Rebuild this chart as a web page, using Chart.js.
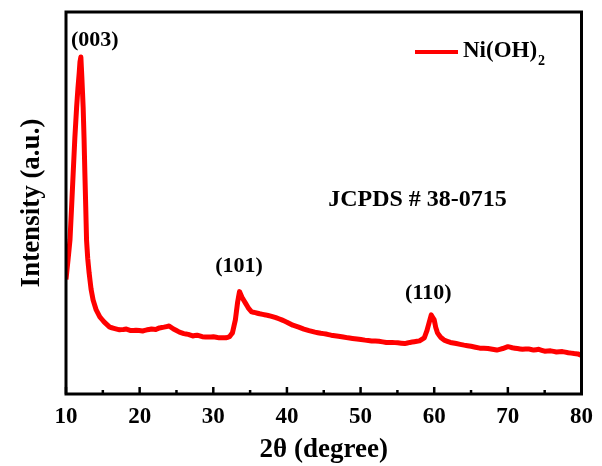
<!DOCTYPE html>
<html>
<head>
<meta charset="utf-8">
<script src="https://cdn.jsdelivr.net/npm/chart.js@4"></script>
<style>
  body { margin: 0; background: #fff; }
  #wrap { width: 602px; height: 466px; position: relative; }
</style>
</head>
<body>
<div id="wrap"><canvas id="xrdChart"></canvas></div>
<script>
// 2theta positions (degree)
var twoTheta = [10.0, 10.27, 10.54, 10.76, 10.98, 11.2, 11.44, 11.62, 11.79, 11.9, 12.02, 12.15, 12.33, 12.45, 12.56,
    12.68, 12.79, 12.95, 13.14, 13.4, 13.68, 14.1, 14.59, 15.2, 15.93, 16.5, 17.28, 17.8, 18.2, 18.8, 19.5, 20.4,
    21.0, 21.6, 22.2, 22.7, 23.3, 24.0, 24.6, 25.4, 26.0, 26.6, 27.2, 27.8, 28.5, 29.4, 30.0, 30.8, 31.7, 32.2,
    32.6, 33.0, 33.3, 33.56, 33.9, 34.37, 34.8, 35.2, 35.7, 36.3, 37.1, 37.8, 38.5, 39.3, 40.0, 40.8, 41.6, 42.3,
    43.0, 43.8, 44.6, 45.3, 46.0, 47.0, 48.3, 49.5, 50.6, 51.5, 52.5, 53.5, 54.3, 55.05, 56.0, 56.7, 57.3, 58.0,
    58.65, 59.0, 59.3, 59.6, 60.0, 60.2, 60.44, 60.9, 61.35, 62.2, 63.0, 64.05, 65.0, 66.2, 67.3, 68.5, 69.3, 70.0,
    70.6, 71.3, 72.0, 72.8, 73.5, 74.2, 75.0, 75.8, 76.6, 77.4, 78.2, 79.0, 79.5, 80.0];
// intensity (a.u.), plot scale 0-100
var intensity = [30, 35, 40.3, 49, 58, 67, 75, 80, 84, 87, 88.2, 83, 75, 67, 58,
    49, 40.3, 35.5, 31.7, 27.5, 24.6, 22.0, 20.2, 18.8, 17.5, 17.2, 16.8, 16.9, 17.0, 16.6, 16.7, 16.5,
    16.8, 17.0, 16.9, 17.3, 17.5, 17.8, 17.0, 16.2, 15.8, 15.6, 15.2, 15.4, 15.0, 14.9, 15.0, 14.7, 14.7, 15.0,
    16.0, 19.4, 24, 26.8, 25.3, 23.8, 22.4, 21.5, 21.3, 21.0, 20.7, 20.4, 20.0, 19.4, 18.8, 18.0, 17.5, 17.0,
    16.6, 16.2, 15.9, 15.7, 15.4, 15.1, 14.7, 14.4, 14.1, 13.9, 13.8, 13.5, 13.5, 13.4, 13.2, 13.5, 13.7, 13.9,
    14.7, 16.5, 18.6, 20.7, 19.4, 17.5, 16.0, 14.8, 14.1, 13.5, 13.2, 12.8, 12.5, 12.0, 11.9, 11.5, 11.9, 12.4,
    12.1, 11.9, 11.7, 11.8, 11.5, 11.7, 11.2, 11.3, 11.0, 11.1, 10.8, 10.6, 10.5, 10.1];

// x axis ticks
var majorTicks = [10, 20, 30, 40, 50, 60, 70, 80];
var minorTicks = [15, 25, 35, 45, 55, 65, 75];

// peak labels: [2theta, intensity, text] (centre of the label)
var peakLabels = [[13.9, 92.7, '(003)'], [33.5, 33.5, '(101)'], [59.2, 26.4, '(110)']];
var cardText = 'JCPDS # 38-0715';
var cardPos = [45.6, 50.8];

var serif = '"Liberation Serif", "Times New Roman", serif';

// Function to draw frame, inward ticks, labels and legend
var decorPlugin = {
    id: 'decor',
    afterDraw: function (chart) {
        var ctx = chart.ctx;
        var area = chart.chartArea;
        var xs = chart.scales.x;
        var ys = chart.scales.y;
        ctx.save();

        // frame
        ctx.strokeStyle = '#000';
        ctx.lineWidth = 3;
        ctx.strokeRect(area.left, area.top, area.right - area.left, area.bottom - area.top);

        // ticks pointing into the plot
        ctx.lineWidth = 2.5;
        majorTicks.forEach(function (t) {
            var px = xs.getPixelForValue(t);
            ctx.beginPath();
            ctx.moveTo(px, area.bottom);
            ctx.lineTo(px, area.bottom - 7);
            ctx.stroke();
        });
        minorTicks.forEach(function (t) {
            var px = xs.getPixelForValue(t);
            ctx.beginPath();
            ctx.moveTo(px, area.bottom);
            ctx.lineTo(px, area.bottom - 4);
            ctx.stroke();
        });

        // peak labels
        ctx.fillStyle = '#000';
        ctx.font = 'bold 22px ' + serif;
        ctx.textAlign = 'center';
        ctx.textBaseline = 'middle';
        peakLabels.forEach(function (p) {
            ctx.fillText(p[2], xs.getPixelForValue(p[0]), ys.getPixelForValue(p[1]));
        });

        // JCPDS card
        ctx.font = 'bold 24px ' + serif;
        ctx.textAlign = 'left';
        ctx.fillText(cardText, xs.getPixelForValue(cardPos[0]), ys.getPixelForValue(cardPos[1]));

        // legend
        ctx.strokeStyle = '#ff0000';
        ctx.lineWidth = 4;
        ctx.beginPath();
        ctx.moveTo(415, 52);
        ctx.lineTo(458, 52);
        ctx.stroke();
        ctx.font = 'bold 23px ' + serif;
        ctx.fillText('Ni(OH)', 463, 51);
        var w = ctx.measureText('Ni(OH)').width;
        ctx.font = 'bold 14px ' + serif;
        ctx.fillText('2', 463 + w + 1, 61);

        ctx.restore();
    }
};

function generateChart() {
    var ctx = document.getElementById('xrdChart').getContext('2d');
    new Chart(ctx, {
        type: 'line',
        data: {
            datasets: [{
                label: 'Ni(OH)2',
                data: twoTheta.map(function (t, i) { return { x: t, y: intensity[i] }; }),
                borderColor: '#ff0000',
                borderWidth: 5,
                borderJoinStyle: 'round',
                pointRadius: 0,
                tension: 0.001, // avoids the fast-path column merging on the steep peak
                fill: false
            }]
        },
        options: {
            responsive: true,
            maintainAspectRatio: false,
            animation: false,
            layout: { padding: { top: 12, right: 17, left: 0, bottom: 0 } },
            scales: {
                x: {
                    type: 'linear',
                    min: 10,
                    max: 80,
                    afterBuildTicks: function (scale) {
                        scale.ticks = majorTicks.map(function (v) { return { value: v }; });
                    },
                    afterFit: function (scale) { scale.height = 72; },
                    grid: { display: false, drawTicks: false },
                    border: { display: false },
                    ticks: {
                        padding: 9,
                        color: '#000',
                        font: { family: serif, size: 23, weight: 'bold' }
                    },
                    title: {
                        display: true,
                        text: '2θ (degree)',
                        color: '#000',
                        padding: { top: 3, bottom: 0 },
                        font: { family: serif, size: 27, weight: 'bold' }
                    }
                },
                y: {
                    min: 0,
                    max: 100,
                    afterFit: function (scale) { scale.width = 66; },
                    grid: { display: false, drawTicks: false },
                    border: { display: false },
                    ticks: { display: false },
                    title: {
                        display: true,
                        text: 'Intensity (a.u.)',
                        color: '#000',
                        padding: { top: 16, bottom: 0 },
                        font: { family: serif, size: 27, weight: 'bold' }
                    }
                }
            },
            plugins: {
                legend: { display: false },
                tooltip: { enabled: false }
            }
        },
        plugins: [decorPlugin]
    });
}

generateChart();
</script>
</body>
</html>
